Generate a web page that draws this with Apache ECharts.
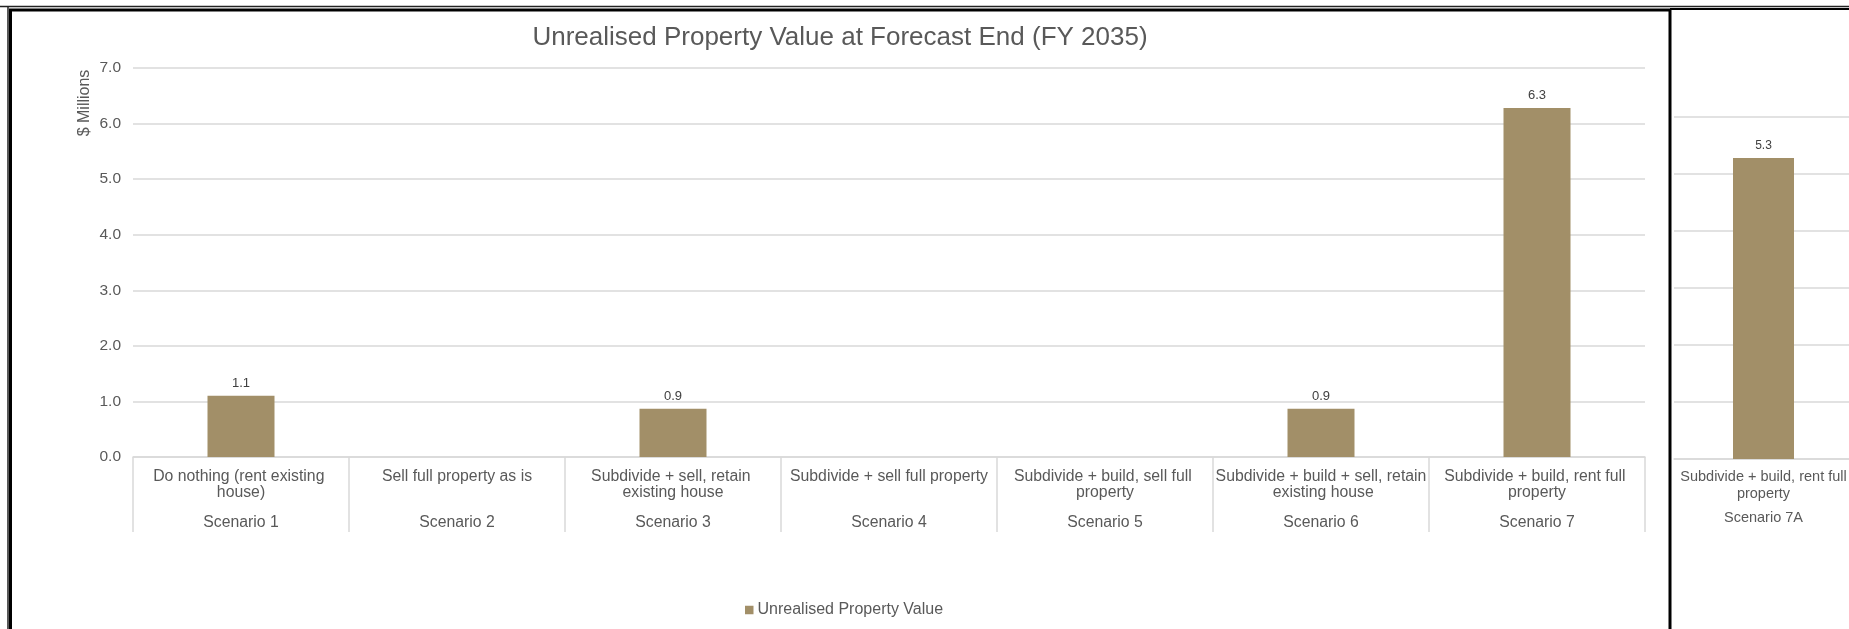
<!DOCTYPE html>
<html>
<head>
<meta charset="utf-8">
<script src="https://cdn.jsdelivr.net/npm/echarts@6/dist/echarts.min.js"></script>
<style>
html,body{margin:0;padding:0;background:#fff;}
#chart{width:1849px;height:629px;}
</style>
</head>
<body>
<div id="chart"></div>
<script>
// ---- data ----
const categories = [
  'Do nothing (rent existing house)',
  'Sell full property as is',
  'Subdivide + sell, retain existing house',
  'Subdivide + sell full property',
  'Subdivide + build, sell full property',
  'Subdivide + build + sell, retain existing house',
  'Subdivide + build, rent full property'
];
const scenarios = ['Scenario 1','Scenario 2','Scenario 3','Scenario 4','Scenario 5','Scenario 6','Scenario 7'];
const values = [1.10, 0, 0.87, 0, 0, 0.87, 6.28];

const categories7A = ['Subdivide + build, rent full property'];
const scenarios7A = ['Scenario 7A'];
const values7A = [5.28];

const seriesName = 'Unrealised Property Value';
const chartTitle = 'Unrealised Property Value at Forecast End (FY 2035)';
const yTitle = '$ Millions';

// ---- chart ----
const FONT = '"Liberation Sans", Arial, sans-serif';
const GRAY = '#595959';
const GRID = '#d9d9d9';
const BAR = '#a28f68';

// word-wrap helper (measures text with canvas)
const measureCtx = document.createElement('canvas').getContext('2d');
function wrapText(text, maxWidth, fontSize) {
  measureCtx.font = fontSize + 'px ' + FONT;
  const words = text.split(' ');
  const lines = [];
  let cur = '';
  words.forEach(w => {
    const test = cur ? cur + ' ' + w : w;
    if (cur && measureCtx.measureText(test).width > maxWidth) {
      lines.push(cur);
      cur = w;
    } else {
      cur = test;
    }
  });
  if (cur) lines.push(cur);
  return lines.join('\n');
}

const chart = echarts.init(document.getElementById('chart'), null, {renderer: 'canvas'});

const labelFmt = p => (p.value ? Number(p.value).toFixed(1) : '');

chart.setOption({
  backgroundColor: '#fff',
  animation: false,
  textStyle: {fontFamily: FONT},
  title: {
    text: chartTitle,
    left: 840, top: 24, padding: 0, textAlign: 'center',
    textStyle: {fontSize: 26, fontWeight: 'normal', color: GRAY, fontFamily: FONT, lineHeight: 28}
  },
  legend: {
    data: [seriesName],
    left: 745, top: 602, padding: 0,
    icon: 'rect', itemWidth: 8.5, itemHeight: 8.5, itemGap: 10,
    textStyle: {fontSize: 16, color: GRAY, fontFamily: FONT, padding: [0, 0, 0, -1]}
  },
  grid: [
    {left: 133, top: 68, width: 1512, height: 389, containLabel: false, outerBoundsMode: 'none'},
    {left: 1674, top: 117, width: 179, height: 342, containLabel: false, outerBoundsMode: 'none'}
  ],
  xAxis: [
    {
      type: 'category', gridIndex: 0, position: 'bottom', data: categories,
      axisLine: {show: true, lineStyle: {color: GRID, width: 1.5}},
      axisTick: {show: true, interval: 0, alignWithLabel: false, length: 75, lineStyle: {color: GRID, width: 1.5}},
      axisLabel: {interval: 0, color: GRAY, fontSize: 15.8, fontFamily: FONT, width: 214, overflow: 'break', lineHeight: 16, margin: 12, align: 'center', verticalAlign: 'top'},
      splitLine: {show: false}
    },
    {
      type: 'category', gridIndex: 0, position: 'bottom', data: scenarios,
      axisLine: {show: false}, axisTick: {show: false}, splitLine: {show: false},
      axisLabel: {interval: 0, color: GRAY, fontSize: 15.8, fontFamily: FONT, margin: 58, lineHeight: 16, verticalAlign: 'top'}
    },
    {
      type: 'category', gridIndex: 1, position: 'bottom', data: categories7A,
      axisLine: {show: true, lineStyle: {color: GRID, width: 1.5}},
      axisTick: {show: false},
      axisLabel: {interval: 0, color: GRAY, fontSize: 14.5, fontFamily: FONT, overflow: 'none', lineHeight: 17, margin: 9, verticalAlign: 'top',
                  formatter: v => wrapText(v, 176, 14.5)},
      splitLine: {show: false}
    },
    {
      type: 'category', gridIndex: 1, position: 'bottom', data: scenarios7A,
      axisLine: {show: false}, axisTick: {show: false}, splitLine: {show: false},
      axisLabel: {interval: 0, color: GRAY, fontSize: 14.5, fontFamily: FONT, margin: 51, lineHeight: 16, verticalAlign: 'top'}
    }
  ],
  yAxis: [
    {
      type: 'value', gridIndex: 0, min: 0, max: 7, interval: 1,
      axisLine: {show: false}, axisTick: {show: false},
      axisLabel: {color: GRAY, fontSize: 15.5, fontFamily: FONT, margin: 12, formatter: v => v.toFixed(1)},
      splitLine: {show: true, lineStyle: {color: GRID, width: 1.5}}
    },
    {
      type: 'value', gridIndex: 1, min: 0, max: 6, interval: 1,
      axisLine: {show: false}, axisTick: {show: false},
      axisLabel: {show: false},
      splitLine: {show: true, lineStyle: {color: GRID, width: 1.5}}
    }
  ],
  series: [
    {
      name: seriesName, type: 'bar', xAxisIndex: 0, yAxisIndex: 0, data: values,
      barWidth: 67, itemStyle: {color: BAR},
      label: {show: true, position: 'top', distance: 6, color: '#404040', fontSize: 13, fontFamily: FONT, formatter: labelFmt}
    },
    {
      name: seriesName, type: 'bar', xAxisIndex: 2, yAxisIndex: 1, data: values7A,
      barWidth: 61, itemStyle: {color: BAR},
      label: {show: true, position: 'top', distance: 6, color: '#404040', fontSize: 12, fontFamily: FONT, formatter: labelFmt}
    }
  ],
  graphic: [
    {type: 'text', x: 85, y: 103, rotation: Math.PI / 2,
     style: {text: yTitle, fontSize: 16, fill: GRAY, fontFamily: FONT, align: 'center', verticalAlign: 'middle'}},
    {type: 'line', shape: {x1: 0, y1: 6.5, x2: 1849, y2: 6.5}, style: {stroke: '#222', lineWidth: 1.5}},
    {type: 'line', shape: {x1: 1670, y1: 9, x2: 1849, y2: 9}, style: {stroke: '#000', lineWidth: 2}},
    {type: 'line', shape: {x1: 8, y1: 6.5, x2: 8, y2: 629}, style: {stroke: '#222', lineWidth: 1.5}},
    {type: 'rect', shape: {x: 10.5, y: 10, width: 1659.5, height: 700}, style: {stroke: '#000', fill: null, lineWidth: 3}}
  ]
});
</script>
</body>
</html>
